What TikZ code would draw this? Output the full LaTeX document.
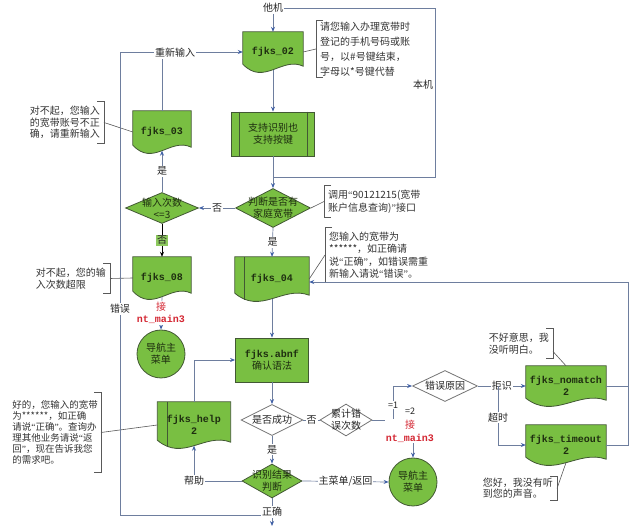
\documentclass[tikz,border=0pt]{standalone}
\usepackage{fontspec}
\setmainfont{Noto Sans CJK SC}
\setmonofont{Liberation Mono}
\newfontfamily\quotefont{Liberation Serif}
\usetikzlibrary{shapes.geometric, arrows.meta, calc}

\definecolor{flowgreen}{RGB}{121,191,66}
\definecolor{flowedge}{RGB}{66,88,52}
\definecolor{linkgray}{RGB}{110,126,158}
\definecolor{tipblue}{RGB}{64,96,166}
\definecolor{callred}{RGB}{212,38,50}
\definecolor{inktext}{RGB}{30,46,16}

\pgfdeclarelayer{docs}
\pgfsetlayers{docs,main}

\newcommand{\docoutline}[1]{%
  \filldraw[draw=flowedge, fill=flowgreen, line width=0.8pt]
    (#1.north west) -- (#1.north east) -- ([yshift=6pt]#1.south east)
    .. controls ([yshift=16pt]$(#1.south west)!0.65!(#1.south east)$)
    and ([yshift=-14pt]$(#1.south west)!0.35!(#1.south east)$)
    .. ([yshift=8pt]#1.south west) -- cycle;}
\newcommand{\bracketR}[1]{%
  \draw[bracket] ([xshift=-7pt]#1.north east) -- (#1.north east)
    -- (#1.south east) -- ([xshift=-7pt]#1.south east);}
\newcommand{\bracketL}[1]{%
  \draw[bracket] ([xshift=7pt]#1.north west) -- (#1.north west)
    -- (#1.south west) -- ([xshift=7pt]#1.south west);}
\newcommand{\mono}[1]{{\ttfamily\bfseries #1}}
\newcommand{\cnq}[1]{{\quotefont “}#1{\quotefont ”}}

\begin{document}
\begin{tikzpicture}[x=1pt, y=-1pt,
    doc/.style={inner sep=0pt, align=center, text=inktext, font=\fontsize{10}{12}\selectfont},
    procbox/.style={rectangle, draw=flowedge, fill=flowgreen, line width=0.8pt, minimum width=83pt, minimum height=44pt, align=center, text=inktext, font=\fontsize{10}{12}\selectfont},
    decision/.style={diamond, draw=flowedge, fill=flowgreen, line width=0.8pt, inner sep=0pt},
    choice/.style={diamond, draw=black!55, fill=white, line width=0.8pt, inner sep=0pt},
    dtext/.style={align=center, inner sep=0pt, text=inktext, font=\fontsize{10}{12}\selectfont},
    navcircle/.style={circle, draw=flowedge, fill=flowgreen, line width=0.8pt, minimum size=48pt, inner sep=0pt, align=center, text=inktext, font=\fontsize{10}{12}\selectfont},
    note/.style={align=left, inner xsep=4pt, inner ysep=0pt, text=black!80, font=\fontsize{10}{12}\selectfont},
    bracket/.style={draw=black!65, line width=0.6pt},
    link/.style={draw=linkgray, line width=0.7pt},
    arrow/.style={link, -{Stealth[length=5pt, width=4pt, color=tipblue]}},
    lbl/.style={fill=white, inner sep=1pt, text=black!85, font=\fontsize{10}{12}\selectfont},
    redlbl/.style={lbl, align=center, text=callred},
  ]
  \useasboundingbox (0,0) rectangle (633,526);

  % main column
  \node[lbl] (tj) at (273,8) {他机};
  \node[doc, minimum width=60pt, minimum height=40pt] (fjks02) at (273,52) {\mono{fjks\_02}};
  \node[procbox] (proc) at (273,134) {支持识别也\\支持按键};
  \node[decision, minimum width=75pt, minimum height=39pt, label={[dtext]center:{判断是否有\\家庭宽带}}] (pd) at (273,208) {};
  \node[doc, minimum width=74pt, minimum height=44pt] (fjks04) at (272,279) {\mono{fjks\_04}};
  \node[procbox, minimum width=73pt] (abnf) at (272,360) {\mono{fjks.abnf}\\确认语法};
  \node[choice, minimum width=62pt, minimum height=31pt, label={[dtext, text=black!85]center:是否成功}] (cg) at (272,420) {};
  \node[decision, minimum width=60pt, minimum height=34pt, label={[dtext]center:{识别结果\\判断}}] (sb) at (272,481) {};

  % left column
  \node[decision, minimum width=73pt, minimum height=31pt, label={[dtext]center:{输入次数\\<=3}}] (cnt) at (162,208) {};
  \node[doc, minimum width=58pt, minimum height=42pt] (fjks03) at (162,132) {\mono{fjks\_03}};
  \node[doc, minimum width=58pt, minimum height=42pt] (fjks08) at (162,278) {\mono{fjks\_08}};
  \node[navcircle] (nav1) at (161,354) {导航主\\菜单};
  \node[doc, minimum width=73pt, minimum height=46pt] (help) at (194,425) {\mono{fjks\_help}\\\mono{2}};

  % right part
  \node[choice, minimum width=52pt, minimum height=32pt, label={[dtext, text=black!85]center:{累计错\\误次数}}] (lj) at (346,420) {};
  \node[choice, minimum width=65pt, minimum height=31pt, label={[dtext, text=black!85]center:错误原因}] (cy) at (445,386) {};
  \node[doc, minimum width=80pt, minimum height=40pt] (nomatch) at (566,386) {\mono{fjks\_nomatch}\\\mono{2}};
  \node[doc, minimum width=80pt, minimum height=40pt] (timeout) at (566,445) {\mono{fjks\_timeout}\\\mono{2}};
  \node[navcircle] (nav2) at (413,482) {导航主\\菜单};

  \begin{pgfonlayer}{docs}
    \foreach \d in {fjks02,fjks03,fjks08,fjks04,nomatch,timeout,help}
      {\docoutline{\d}}
    \draw[draw=flowedge, line width=0.8pt] ([xshift=10pt]fjks04.north west) -- ([xshift=10pt, yshift=1.5pt]fjks04.south west);
    \draw[draw=flowedge, line width=0.8pt] ([xshift=10pt]help.north west) -- ([xshift=10pt, yshift=1.5pt]help.south west);
  \end{pgfonlayer}
  \draw[draw=flowedge, line width=0.8pt] ([xshift=8pt]proc.north west) -- ([xshift=8pt]proc.south west)
    ([xshift=-8pt]proc.north east) -- ([xshift=-8pt]proc.south east);

  % notes
  \node[note, anchor=west, minimum height=56pt, font=\fontsize{10}{15}\selectfont] (n02) at (316,49) {请您输入办理宽带时\\登记的手机号码或账\\号，以\#号键结束，\\字母以*号键代替};
  \node[note, anchor=east, minimum height=41pt, font=\fontsize{10}{11.5}\selectfont] (n03) at (104,122.5) {对不起，您输入\\的宽带账号不正\\确，请重新输入};
  \node[note, anchor=east, minimum height=29pt] (n08) at (110,278.5) {对不起，您的输\\入次数超限};
  \node[note, anchor=west, minimum height=31pt, font=\fontsize{10}{13}\selectfont] (npd) at (324,201.5) {调用{\quotefont “}90121215(宽带\\账户信息查询){\quotefont ”}接口};
  \node[note, anchor=west, minimum height=54pt, font=\fontsize{10}{12.5}\selectfont] (n04) at (325,255) {您输入的宽带为\\******，如正确请\\说\cnq{正确}，如错误需重\\新输入请说\cnq{错误}。};
  \node[note, anchor=east, inner xsep=3pt, minimum height=79pt, font=\fontsize{9.5}{11}\selectfont] (nhelp) at (101,432.5) {好的，您输入的宽带\\为******，如正确\\请说\cnq{正确}。查询办\\理其他业务请说{\quotefont “}返\\回{\quotefont ”}，现在告诉我您\\的需求吧。};
  \node[note, anchor=east, minimum height=29pt, font=\fontsize{10}{11.5}\selectfont] (nnm) at (553,343.5) {不好意思，我\\没听明白。};
  \node[note, anchor=east, minimum height=23pt, font=\fontsize{10}{11}\selectfont] (nto) at (557,488.5) {您好，我没有听\\到您的声音。};
  \bracketL{n02} \bracketL{npd} \bracketL{n04}
  \bracketR{n03} \bracketR{n08} \bracketR{nhelp} \bracketR{nnm} \bracketR{nto}
  \draw[bracket] (fjks02.east) -- (n02.west);
  \draw[bracket] (n03.east) -- (fjks03.west);
  \draw[bracket] (n08.east) -- (fjks08.west);
  \draw[bracket] (pd.east) -- (npd.west);
  \draw[bracket] (fjks04.east) -- (n04.west);
  \draw[bracket] (nhelp.east) -- (help.west);
  \draw[bracket] ([yshift=-8pt]nnm.east) -- (nomatch.north);
  \draw[bracket] (nto.east) -- ([yshift=2.5pt]timeout.south);

  % connectors
  \coordinate (bjturn) at (435,177);
  \coordinate (ljsplit) at (393,420);
  \coordinate (cysplit) at (498,386);
  \coordinate (rrail) at (628,282);
  \coordinate (zqturn) at (272,515);
  \coordinate (leftrail) at (120,515);
  \coordinate (bottomend) at (272,526);

  \draw[arrow] (tj.south) -- (fjks02.north);
  \draw[link] (tj.east) -| (bjturn) -- (bjturn -| pd.north);
  \node[lbl, fill=none] (bj) at (423,85) {本机};
  \draw[arrow] ([yshift=2.5pt]fjks02.south) -- (proc.north);
  \draw[arrow] (proc.south) -- (pd.north);
  \draw[arrow] (pd.west) -- node[lbl] (no1) {否} (cnt.east);
  \draw[arrow] (cnt.north) -- node[lbl] (yes1) {是} ([yshift=2.5pt]fjks03.south);
  \draw[line width=0.7pt, -{Stealth[length=5pt, width=4pt]}] (cnt.south) -- node[lbl, fill=flowgreen!85] (no2) {否} (fjks08.north);
  \draw[link] (fjks03.north) -- (fjks03.north |- fjks02.west);
  \draw[arrow] ([yshift=2.5pt]fjks08.south) -- (nav1.north);
  \node[redlbl] (jie1) at (161,313) {接\\\mono{nt\_main3}};
  \draw[arrow] (pd.south) -- node[lbl] (yes2) {是} (fjks04.north);
  \draw[arrow] ([yshift=2.5pt]fjks04.south) -- (abnf.north);
  \draw[arrow] (abnf.south) -- (cg.north);
  \draw[arrow] (help.north) |- (abnf.west);
  \draw[link] (cg.east) -- node[lbl] (no3) {否} (lj.west);
  \draw[link] (lj.east) -- (ljsplit);
  \draw[arrow] (ljsplit) |- (cy.west);
  \draw[arrow] (ljsplit) -| (nav2.north);
  \node[lbl, font=\fontsize{9}{10}\selectfont] (eq1) at (393,405) {=1};
  \node[lbl, font=\fontsize{9}{10}\selectfont] (eq2) at (410,411) {=2};
  \node[redlbl, font=\fontsize{10}{13}\selectfont] (jie2) at (410,431) {接\\\mono{nt\_main3}};
  \draw[arrow] (cy.east) -- node[lbl] (jushi) {拒识} (nomatch.west);
  \draw[arrow] (cysplit) |- node[lbl, pos=0.27] (chaoshi) {超时} (timeout.west);
  \draw[link] (nomatch.east) -- (nomatch.east -| rrail);
  \draw[arrow] (timeout.east) -| (rrail) -- (rrail -| fjks04.east);
  \draw[arrow] (cg.south) -- node[lbl] (yes3) {是} (sb.north);
  \draw[arrow] (sb.west) -| node[lbl, pos=0.5] (bz) {帮助} ([yshift=2.5pt]help.south);
  \draw[arrow] (sb.east) -- node[lbl] (menu) {主菜单/返回} (nav2.west);
  \draw[arrow] (sb.south) -- (bottomend);
  \draw[arrow] (zqturn) -- (leftrail) |- (fjks02.west);
  \node[lbl] (zq) at (272,512) {正确};
  \node[lbl] (cw) at (120,309) {错误};
  \node[lbl] (cxsr) at (175,53) {重新输入};
\end{tikzpicture}
\end{document}
